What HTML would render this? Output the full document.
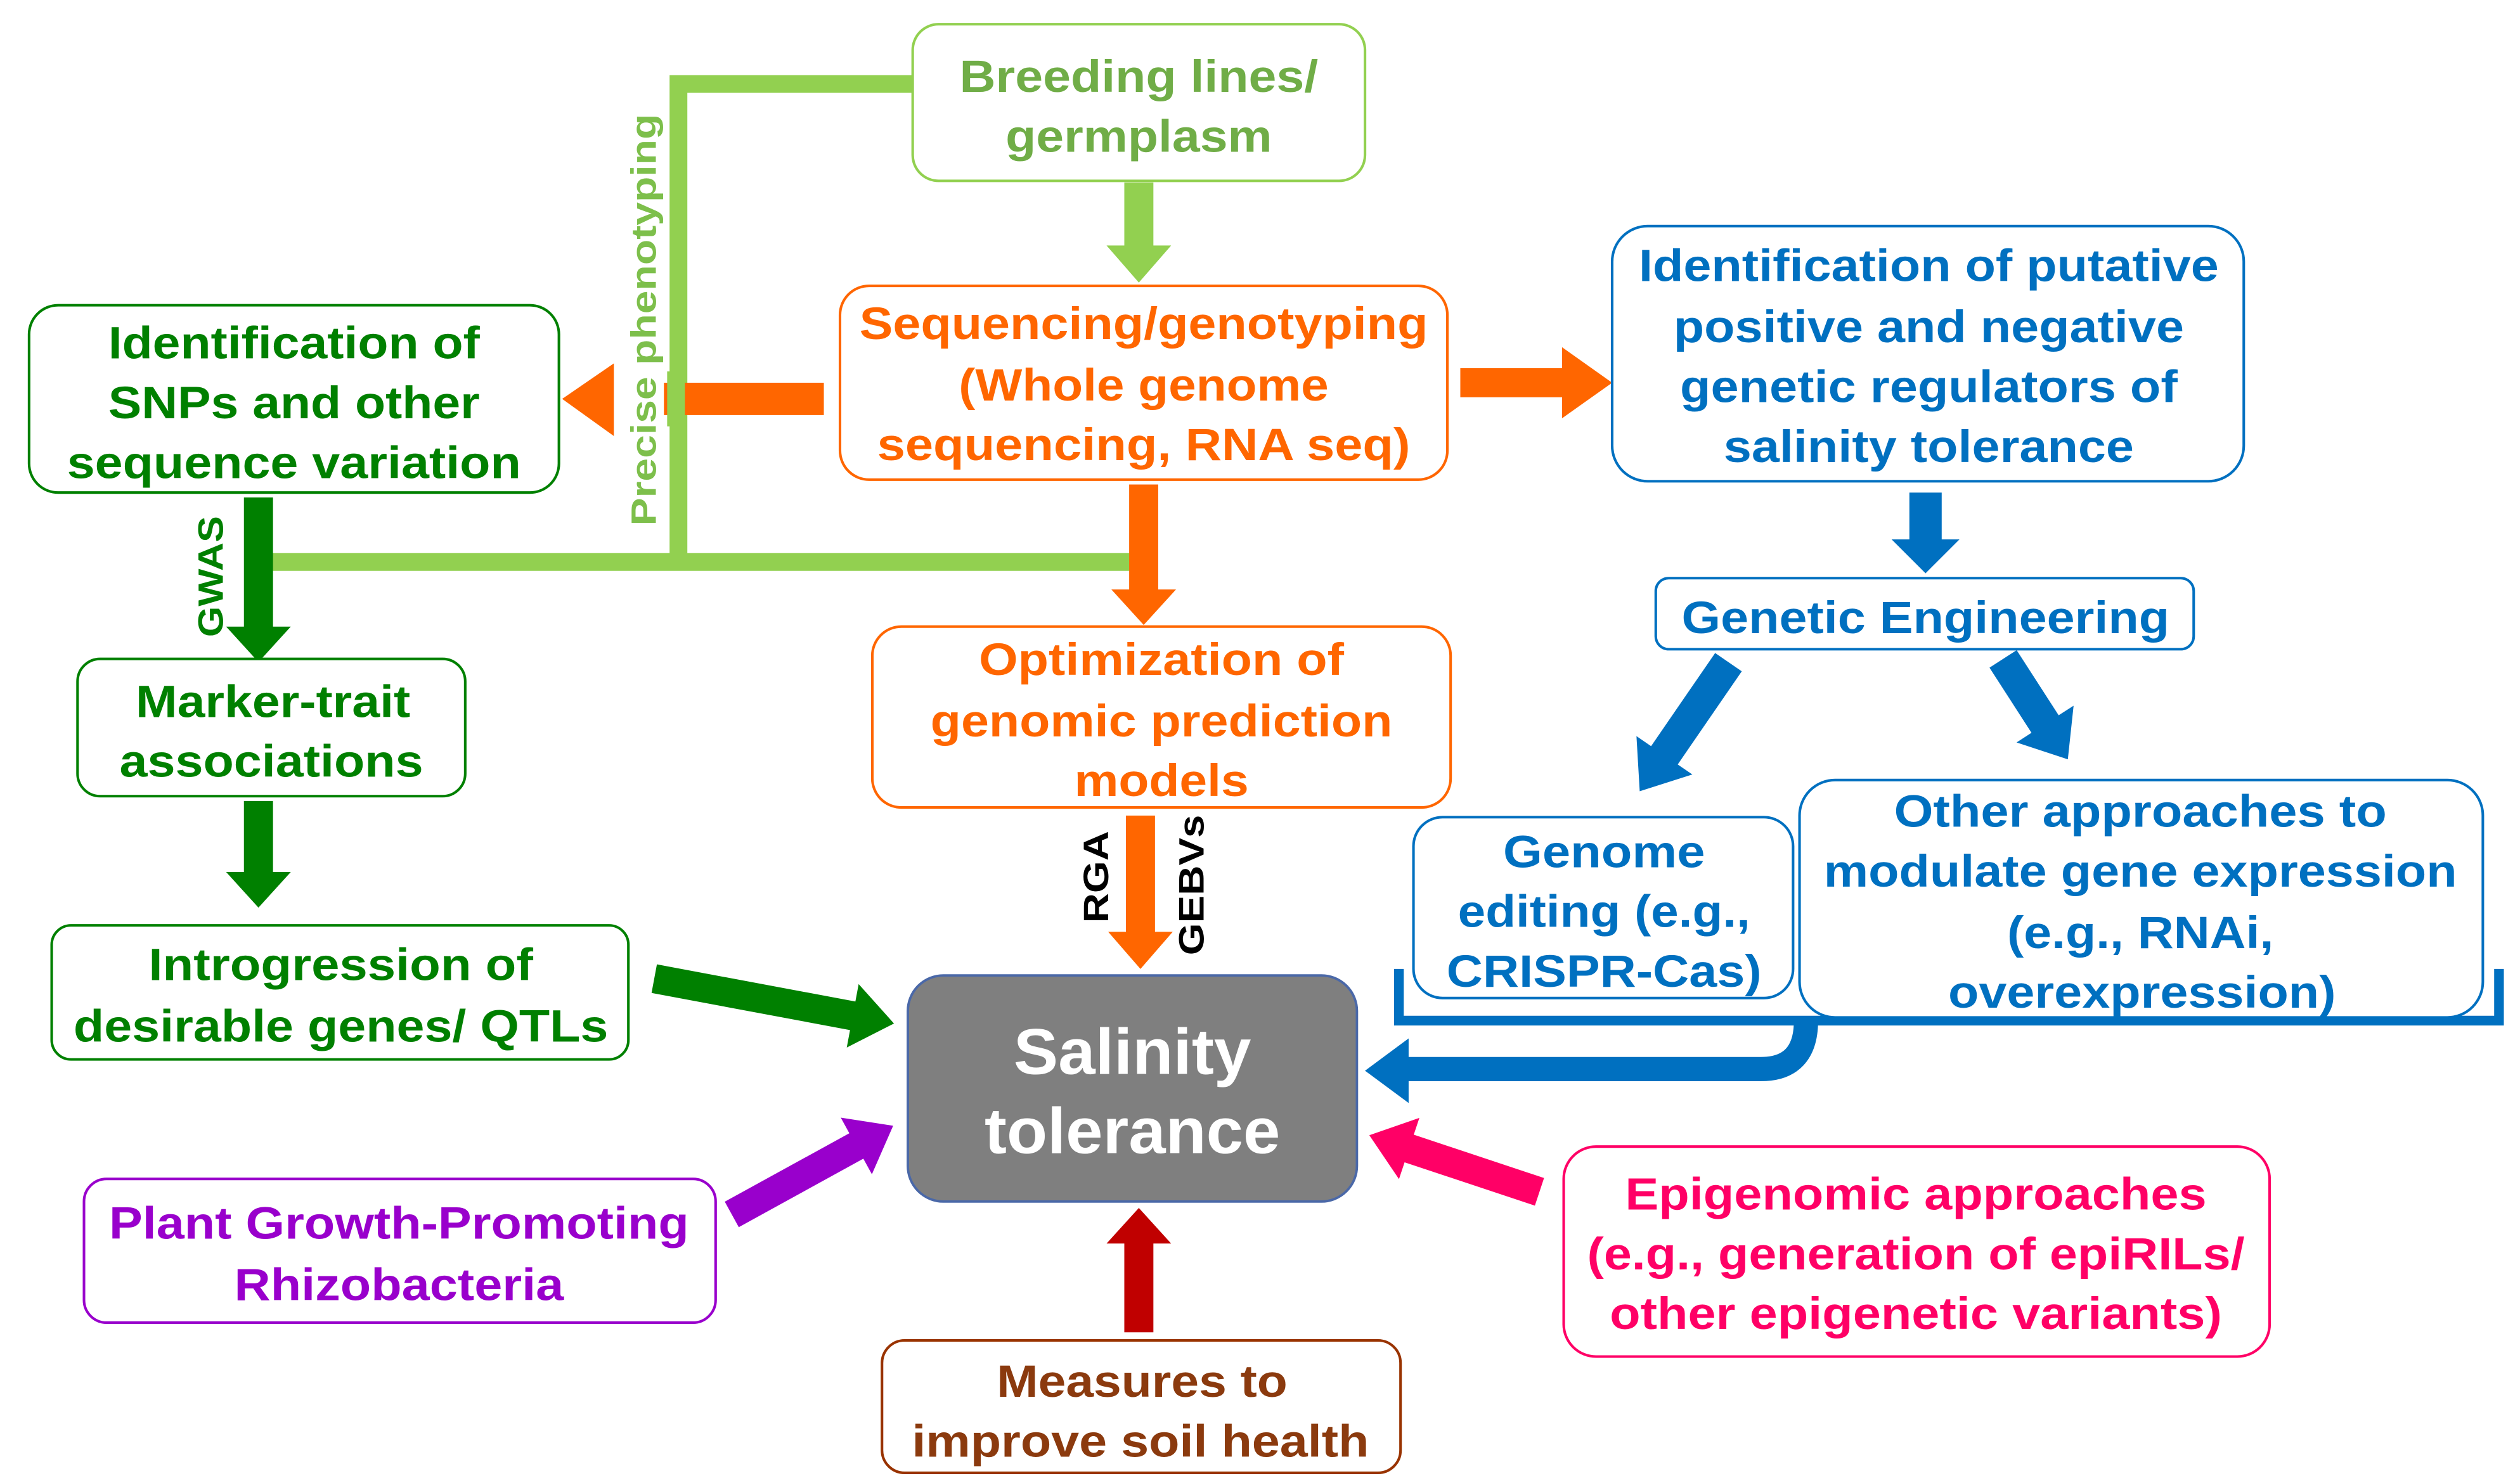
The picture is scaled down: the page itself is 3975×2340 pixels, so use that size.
<!DOCTYPE html>
<html><head><meta charset="utf-8"><style>
html,body{margin:0;padding:0;background:#fff;}
svg{display:block;}
text{font-family:"Liberation Sans",Arial,sans-serif;font-weight:bold;text-anchor:middle;}
</style></head><body>
<svg width="3975" height="2340" viewBox="0 0 1560 918.3" preserveAspectRatio="none" xmlns="http://www.w3.org/2000/svg">
<defs>
<polygon id="ar" points="0,-9 1,-9 1,0 1,9 0,9"/>
</defs>
<!-- light green connectors -->
<g fill="none" stroke="#92d050" stroke-width="11">
<polyline points="566,52 420,52 420,348"/>
<line x1="165" y1="348" x2="702" y2="348"/>
</g>
<text x="0" y="0" transform="translate(406,198) rotate(-90)" font-size="22" fill="#7dbf4b" textLength="255" lengthAdjust="spacingAndGlyphs">Precise phenotyping</text>
<!-- light green down arrow -->
<polygon fill="#92d050" points="696,113 714,113 714,152 725,152 705,175 685,152 696,152"/>
<!-- orange left arrow -->
<rect x="411" y="237" width="99" height="20" fill="#ff6600"/>
<polygon fill="#ff6600" points="348,247 380,225 380,270"/>
<rect x="413" y="230" width="11" height="34" fill="#92d050"/>
<!-- orange right arrow -->
<polygon fill="#ff6600" points="904,228 967,228 967,215 998,237 967,259 967,246 904,246"/>
<!-- orange down from seq -->
<polygon fill="#ff6600" points="699,300 717,300 717,365 728,365 708,387 688,365 699,365"/>
<!-- orange optim -> salinity -->
<polygon fill="#ff6600" points="697,505 715,505 715,577 726,577 706,600 686,577 697,577"/>
<text transform="translate(686,543) rotate(-90)" font-size="22" fill="#000" textLength="57" lengthAdjust="spacingAndGlyphs">RGA</text>
<text transform="translate(745,548) rotate(-90)" font-size="22" fill="#000" textLength="87" lengthAdjust="spacingAndGlyphs">GEBVs</text>
<!-- dark green GWAS arrow -->
<polygon fill="#008000" points="151,308 169,308 169,388 180,388 160,410 140,388 151,388"/>
<text transform="translate(138,357) rotate(-90)" font-size="22" fill="#008000" textLength="75" lengthAdjust="spacingAndGlyphs">GWAS</text>
<polygon fill="#008000" points="151,496 169,496 169,540 180,540 160,562 140,540 151,540"/>
<!-- diagonal arrows -->
<g transform="translate(405,606) rotate(10.6)"><polygon fill="#008000" points="0,-9 125,-9 125,-20 151,0 125,20 125,9 0,9"/></g>
<g transform="translate(453,752) rotate(-28.8)"><polygon fill="#9900cc" points="0,-9 88,-9 88,-20 114,0 88,20 88,9 0,9"/></g>
<g transform="translate(953,738) rotate(198.4)"><polygon fill="#ff0066" points="0,-9 85,-9 85,-20 111,0 85,20 85,9 0,9"/></g>
<polygon fill="#c00000" points="696,825 714,825 714,770 725,770 705,748 685,770 696,770"/>
<!-- blue arrows -->
<polygon fill="#0070c0" points="1182,305 1202,305 1202,334 1213,334 1192,355 1171,334 1182,334"/>
<g transform="translate(1070,410) rotate(124.5)"><polygon fill="#0070c0" points="0,-10 70,-10 70,-21 97,0 70,21 70,10 0,10"/></g>
<g transform="translate(1240,408) rotate(57.2)"><polygon fill="#0070c0" points="0,-10 48,-10 48,-21 74,0 48,21 48,10 0,10"/></g>
<!-- bracket -->
<polyline fill="none" stroke="#0070c0" stroke-width="6" points="866,600 866,632 1547,632 1547,600"/>
<path d="M1118,632 Q1118,662 1090,662 L868,662" fill="none" stroke="#0070c0" stroke-width="15"/>
<polygon fill="#0070c0" points="845,663 872,643 872,683"/>
<!-- boxes -->
<g stroke-width="1.6" fill="#fff">
<rect x="565" y="15" width="280" height="97" rx="16" stroke="#92d050"/>
<rect x="520" y="177" width="376" height="120" rx="18" stroke="#ff6600"/>
<rect x="18" y="189" width="328" height="116" rx="18" stroke="#008000"/>
<rect x="998" y="140" width="391" height="158" rx="22" stroke="#0070c0"/>
<rect x="1025" y="358" width="333" height="44" rx="8" stroke="#0070c0"/>
<rect x="48" y="408" width="240" height="85" rx="14" stroke="#008000"/>
<rect x="540" y="388" width="358" height="112" rx="18" stroke="#ff6600"/>
<rect x="875" y="506" width="235" height="112" rx="18" stroke="#0070c0"/>
<rect x="1114" y="483" width="423" height="147" rx="22" stroke="#0070c0"/>
<rect x="32" y="573" width="357" height="83" rx="12" stroke="#008000"/>
<rect x="52" y="730" width="391" height="89" rx="14" stroke="#9900cc"/>
<rect x="968" y="710" width="437" height="130" rx="20" stroke="#ff0066"/>
<rect x="546" y="830" width="321" height="82" rx="14" stroke="#993300"/>
</g>
<rect x="562" y="604" width="278" height="140" rx="22" fill="#7f7f7f" stroke="#4a68a8" stroke-width="1.5"/>
<!-- texts -->
<g font-size="28">
<g fill="#70ad47">
<text x="705" y="57" textLength="222" lengthAdjust="spacingAndGlyphs">Breeding lines/</text>
<text x="705" y="94" textLength="165" lengthAdjust="spacingAndGlyphs">germplasm</text>
</g>
<g fill="#ff6600">
<text x="708" y="210" textLength="352" lengthAdjust="spacingAndGlyphs">Sequencing/genotyping</text>
<text x="708" y="248" textLength="229" lengthAdjust="spacingAndGlyphs">(Whole genome</text>
<text x="708" y="285" textLength="330" lengthAdjust="spacingAndGlyphs">sequencing, RNA seq)</text>
<text x="719" y="418" textLength="226" lengthAdjust="spacingAndGlyphs">Optimization of</text>
<text x="719" y="456" textLength="286" lengthAdjust="spacingAndGlyphs">genomic prediction</text>
<text x="719" y="493" textLength="108" lengthAdjust="spacingAndGlyphs">models</text>
</g>
<g fill="#008000">
<text x="182" y="222" textLength="230" lengthAdjust="spacingAndGlyphs">Identification of</text>
<text x="182" y="259" textLength="230" lengthAdjust="spacingAndGlyphs">SNPs and other</text>
<text x="182" y="296" textLength="281" lengthAdjust="spacingAndGlyphs">sequence variation</text>
<text x="169" y="444" textLength="170" lengthAdjust="spacingAndGlyphs">Marker-trait</text>
<text x="168" y="481" textLength="188" lengthAdjust="spacingAndGlyphs">associations</text>
<text x="211" y="607" textLength="238" lengthAdjust="spacingAndGlyphs">Introgression of</text>
<text x="211" y="645" textLength="331" lengthAdjust="spacingAndGlyphs">desirable genes/ QTLs</text>
</g>
<g fill="#0070c0">
<text x="1194" y="174" textLength="359" lengthAdjust="spacingAndGlyphs">Identification of putative</text>
<text x="1194" y="212" textLength="316" lengthAdjust="spacingAndGlyphs">positive and negative</text>
<text x="1194" y="249" textLength="308" lengthAdjust="spacingAndGlyphs">genetic regulators of</text>
<text x="1194" y="286" textLength="254" lengthAdjust="spacingAndGlyphs">salinity tolerance</text>
<text x="1192" y="392" textLength="302" lengthAdjust="spacingAndGlyphs">Genetic Engineering</text>
<text x="993" y="537" textLength="125" lengthAdjust="spacingAndGlyphs">Genome</text>
<text x="993" y="574" textLength="181" lengthAdjust="spacingAndGlyphs">editing (e.g.,</text>
<text x="993" y="611" textLength="195" lengthAdjust="spacingAndGlyphs">CRISPR-Cas)</text>
<text x="1325" y="512" textLength="305" lengthAdjust="spacingAndGlyphs">Other approaches to</text>
<text x="1325" y="549" textLength="392" lengthAdjust="spacingAndGlyphs">modulate gene expression</text>
<text x="1325" y="587" textLength="165" lengthAdjust="spacingAndGlyphs">(e.g., RNAi,</text>
<text x="1326" y="624" textLength="240" lengthAdjust="spacingAndGlyphs">overexpression)</text>
</g>
<g fill="#9900cc">
<text x="247" y="767" textLength="359" lengthAdjust="spacingAndGlyphs">Plant Growth-Promoting</text>
<text x="247" y="805" textLength="204" lengthAdjust="spacingAndGlyphs">Rhizobacteria</text>
</g>
<g fill="#ff0066">
<text x="1186" y="749" textLength="360" lengthAdjust="spacingAndGlyphs">Epigenomic approaches</text>
<text x="1186" y="786" textLength="407" lengthAdjust="spacingAndGlyphs">(e.g., generation of epiRILs/</text>
<text x="1186" y="823" textLength="379" lengthAdjust="spacingAndGlyphs">other epigenetic variants)</text>
</g>
<g fill="#8b3a0e">
<text x="707" y="865" textLength="180" lengthAdjust="spacingAndGlyphs">Measures to</text>
<text x="706" y="902" textLength="283" lengthAdjust="spacingAndGlyphs">improve soil health</text>
</g>
</g>
<g fill="#fff" font-size="40">
<text x="701" y="665" textLength="147" lengthAdjust="spacingAndGlyphs">Salinity</text>
<text x="701" y="714" textLength="183" lengthAdjust="spacingAndGlyphs">tolerance</text>
</g>
</svg>
</body></html>
